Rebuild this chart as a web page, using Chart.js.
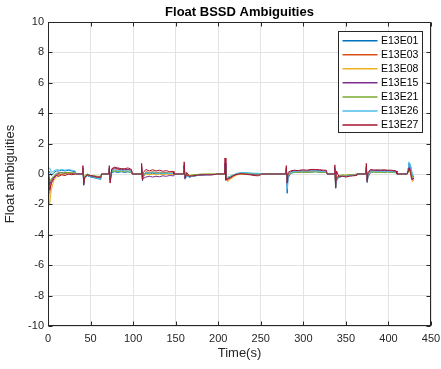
<!DOCTYPE html>
<html><head><meta charset="utf-8">
<script src="https://cdn.jsdelivr.net/npm/chart.js@4/dist/chart.umd.min.js"></script>
<style>html,body{margin:0;padding:0;background:#fff}</style>
</head><body>
<canvas id="c" width="441" height="369"></canvas>
<script>
// ---- data ----
const timeS = [
  0,1,2,4,7,10,13,16,20,24,28,32,33,
  40.5,41,42,43,46,50,54,58,62,63,
  71.5,72,73,75,78,82,86,90,94,98,99,
  109.5,110,111,112,115,119,123,127,131,135,139,143,147,148,
  159.5,160,161,163,166,170,175,180,186,192,197,198,
  207.5,208,209,211,214,218,222,227,232,237,242,247,250,251,
  279.5,280,281,282,285,289,294,299,304,309,314,319,324,327,328,
  336.5,337,338,339,342,346,350,354,358,362,363,
  373.5,374,375,376,379,383,387,391,395,399,403,409,410,
  421.5,422,423,424,426,427,428,430
];
const E13E01 = [
  0.1,0.2,0.1,-0.1,0.1,0.2,0.2,0.25,0.2,0.25,0.2,0.15,0,
  0,0.4,-0.75,-0.3,-0.1,-0.2,-0.25,-0.3,-0.35,0,
  0,0.3,-0.5,0.1,0.15,0.1,0.15,0.1,0.15,0.1,0,
  0,0.3,-0.45,-0.2,0.05,0,0.05,0,0.05,0,0.05,0,0.05,0,
  0,0.5,-0.3,-0.1,-0.2,-0.15,-0.1,-0.05,-0.05,-0.05,-0.02,0,
  0,0.6,-0.3,-0.3,-0.2,-0.1,0,0.05,0.05,0.02,0,0,0,0,
  0,0.3,-1.27,-0.3,0.05,0.1,0.1,0.12,0.1,0.12,0.15,0.12,0.1,0.1,0,
  0,0.3,-0.9,-0.4,-0.15,-0.1,-0.15,-0.1,-0.1,-0.05,0,
  0,0.4,-0.57,-0.2,0.1,0.15,0.12,0.15,0.12,0.15,0.1,0.1,0,
  0,0,0.3,0.7,0.5,0.2,-0.1,-0.2
];
const E13E03 = [
  -0.2,-0.9,-1.3,-0.5,-0.2,-0.1,0,-0.05,0.05,0,0.05,0.05,0,
  0,0.3,-0.4,-0.2,-0.05,-0.15,-0.2,-0.2,-0.25,0,
  0,0.3,-0.3,0.3,0.35,0.3,0.3,0.25,0.3,0.25,0,
  0,0.4,-0.2,-0.1,0.15,0.1,0.15,0.1,0.12,0.08,0.1,0.06,0.08,0,
  0,0.4,-0.2,-0.05,-0.15,-0.1,-0.05,-0.05,-0.03,-0.03,-0.02,0,
  0,0.5,-0.3,-0.45,-0.3,-0.15,-0.05,0,0.02,0,-0.02,-0.05,-0.02,0,
  0,0.3,-0.5,0,0.1,0.15,0.15,0.18,0.15,0.2,0.2,0.2,0.15,0.15,0,
  0,0.2,-0.6,-0.3,-0.1,-0.1,-0.1,-0.05,-0.05,-0.05,0,
  0,0.3,-0.3,0,0.2,0.2,0.2,0.18,0.2,0.2,0.18,0.15,0,
  0,0,0.2,0.4,0.2,-0.1,-0.3,-0.3
];
const E13E08 = [
  -0.3,-1.5,-2.0,-1.0,-0.4,-0.2,-0.1,-0.05,0,0.05,0,0,0,
  0,0.2,-0.3,-0.2,0,-0.1,-0.15,-0.2,-0.2,0,
  0,0.2,-0.2,0.2,0.25,0.2,0.2,0.2,0.2,0.15,0,
  0,0.2,-0.3,-0.15,0,-0.05,0,-0.05,0,-0.05,0,-0.03,0,0,
  0,0.3,-0.2,0,-0.1,-0.1,-0.05,-0.03,-0.02,0,0,0,
  0,0.4,-0.3,-0.5,-0.35,-0.2,-0.05,0,0,0,-0.02,-0.03,0,0,
  0,0.2,-0.6,-0.1,0.1,0.12,0.12,0.15,0.12,0.15,0.18,0.15,0.12,0.12,0,
  0,0.2,-0.95,-0.3,-0.15,-0.1,-0.12,-0.08,-0.05,-0.05,0,
  0,0.2,-0.4,-0.1,0.15,0.15,0.15,0.15,0.15,0.15,0.12,0.1,0,
  0,0,0.1,0.3,0.1,-0.2,-0.5,-0.4
];
const E13E15 = [
  -0.1,-0.5,-0.7,-0.4,-0.2,0,0.05,0.1,0.05,0.1,0.05,0.05,0,
  0,0.3,-0.5,-0.2,-0.1,-0.15,-0.2,-0.25,-0.25,0,
  0,0.4,-0.4,0.3,0.4,0.35,0.3,0.3,0.3,0.25,0,
  0,0.5,-0.35,-0.3,-0.2,-0.15,-0.2,-0.15,-0.18,-0.12,-0.15,-0.1,-0.12,0,
  0,0.6,-0.3,-0.1,-0.2,-0.15,-0.1,-0.08,-0.05,-0.05,-0.02,0,
  0,0.7,-0.4,-0.3,-0.25,-0.1,0,0.03,0.03,0,-0.05,-0.05,-0.02,0,
  0,0.4,-0.7,-0.2,0.15,0.2,0.2,0.22,0.2,0.25,0.25,0.25,0.2,0.2,0,
  0,0.4,-0.7,-0.2,-0.2,-0.15,-0.15,-0.1,-0.1,-0.05,0,
  0,0.5,-0.45,0,0.25,0.25,0.22,0.25,0.22,0.22,0.2,0.18,0,
  0,0,0.2,0.5,0.3,-0.1,-0.35,-0.3
];
const E13E21 = [
  0,-0.3,-0.5,-0.3,-0.1,0.05,0.1,0.05,0.1,0.1,0.1,0.05,0,
  0,0.2,-0.3,-0.1,0,-0.1,-0.1,-0.15,-0.15,0,
  0,0.2,-0.2,0.15,0.2,0.15,0.2,0.15,0.15,0.1,0,
  0,0.3,-0.2,-0.1,0.1,0.05,0.1,0.05,0.08,0.05,0.06,0.04,0.05,0,
  0,0.3,-0.1,0,-0.1,-0.05,-0.03,0,0,0,0,0,
  0,0.4,-0.2,-0.25,-0.15,-0.05,0.02,0.05,0.05,0.03,0.02,0,0,0,
  0,0.2,-0.4,0,0.08,0.1,0.1,0.12,0.1,0.12,0.15,0.12,0.1,0.1,0,
  0,0.2,-0.5,-0.2,-0.1,-0.05,-0.08,-0.05,-0.05,0,0,
  0,0.2,-0.2,0,0.1,0.12,0.1,0.12,0.1,0.12,0.1,0.08,0,
  0,0,0.1,0.3,0.2,0,-0.2,-0.2
];
const E13E26 = [
  0.3,0.35,0.4,0.1,0.2,0.3,0.25,0.3,0.25,0.3,0.25,0.2,0,
  0,0.35,-0.6,-0.3,-0.05,-0.2,-0.2,-0.3,-0.3,0,
  0,0.3,-0.3,0.2,0.3,0.2,0.25,0.2,0.2,0.15,0,
  0,0.35,-0.3,-0.1,0.1,0.05,0.1,0.05,0.08,0.04,0.06,0.03,0.05,0,
  0,0.4,-0.35,-0.15,-0.2,-0.15,-0.1,-0.05,-0.05,-0.03,-0.02,0,
  0,0.6,-0.3,-0.2,-0.15,-0.05,0.05,0.1,0.1,0.08,0.05,0.05,0.02,0,
  0,0.3,-1.0,-0.2,0.1,0.15,0.15,0.2,0.18,0.2,0.2,0.18,0.15,0.15,0,
  0,0.4,-0.95,-0.5,-0.2,-0.15,-0.15,-0.12,-0.1,-0.05,0,
  0,0.4,-0.5,-0.1,0.15,0.2,0.15,0.18,0.15,0.18,0.15,0.12,0,
  0,0,0.4,0.8,0.6,0.3,0,-0.1
];
const E13E27 = [
  -0.2,-1.0,-1.05,-0.6,-0.3,-0.1,-0.15,-0.05,-0.1,0,-0.05,0,0,
  0,0.55,-0.7,-0.25,-0.05,-0.1,-0.15,-0.2,-0.2,0,
  0,0.55,-0.6,0.35,0.45,0.4,0.35,0.35,0.4,0.3,0,
  0,0.7,-0.4,0.1,0.3,0.2,0.28,0.2,0.25,0.18,0.22,0.15,0.18,0,
  0,0.8,-0.3,0.1,-0.15,-0.12,-0.08,-0.05,-0.05,-0.05,-0.03,0,
  0,1.05,-0.4,-0.35,-0.25,-0.1,-0.02,0.02,-0.02,-0.05,-0.1,-0.12,-0.05,0,
  0,0.55,-0.6,0.1,0.2,0.25,0.22,0.28,0.25,0.3,0.3,0.28,0.25,0.25,0,
  0,0.6,-0.9,0.2,-0.2,-0.15,-0.2,-0.15,-0.12,-0.1,0,
  0,0.7,-0.5,0.1,0.3,0.25,0.28,0.25,0.28,0.25,0.25,0.2,0,
  0,0,0.2,0.4,0.1,-0.3,-0.4,-0.25
];
const seriesNames = ['E13E01','E13E03','E13E08','E13E15','E13E21','E13E26','E13E27'];
const seriesValues = [E13E01,E13E03,E13E08,E13E15,E13E21,E13E26,E13E27];
const seriesColors = ['#0072BD','#D95319','#EDB120','#7E2F8E','#77AC30','#4DBEEE','#A2142F'];
const xTickValues = [0,50,100,150,200,250,300,350,400,450];
const yTickValues = [-10,-8,-6,-4,-2,0,2,4,6,8,10];
const chartTitle = 'Float BSSD Ambiguities';

const FONT = "'Liberation Sans', Arial, Helvetica, sans-serif";
const AX = '#262626';

const datasets = seriesNames.map((n, i) => ({
  label: n,
  data: timeS.map((t, k) => ({x: t, y: seriesValues[i][k]})),
  borderColor: seriesColors[i],
  backgroundColor: seriesColors[i],
  borderWidth: 1,
  pointRadius: 0,
  tension: 0,
  order: seriesNames.length - i
}));

const matlabFrame = {
  id: 'matlabFrame',
  afterDraw(chart) {
    const {ctx, chartArea: a, scales: {x, y}} = chart;
    ctx.save();
    // title centred over the axes
    ctx.fillStyle = '#000';
    ctx.font = 'bold 13px ' + FONT;
    ctx.textAlign = 'center';
    ctx.textBaseline = 'alphabetic';
    ctx.fillText(chartTitle, (a.left + a.right) / 2, 16);

    ctx.strokeStyle = AX;
    ctx.lineWidth = 1;
    const L = Math.round(a.left) + 0.5, R = Math.round(a.right) - 0.5;
    const T = Math.round(a.top) + 0.5, B = Math.round(a.bottom) - 0.5;
    ctx.strokeRect(L, T, R - L, B - T);
    ctx.beginPath();
    xTickValues.forEach(v => {
      const px = Math.round(x.getPixelForValue(v)) + 0.5;
      ctx.moveTo(px, B); ctx.lineTo(px, B - 4);
      ctx.moveTo(px, T); ctx.lineTo(px, T + 4);
    });
    yTickValues.forEach(v => {
      const py = Math.round(y.getPixelForValue(v)) + 0.5;
      ctx.moveTo(L, py); ctx.lineTo(L + 4, py);
      ctx.moveTo(R, py); ctx.lineTo(R - 4, py);
    });
    ctx.stroke();
    // legend box
    const bx = Math.round(a.right) - 92.5, by = Math.round(a.top) + 9.5;
    const bw = 84, bh = 101;
    ctx.fillStyle = '#fff';
    ctx.fillRect(bx, by, bw, bh);
    ctx.strokeStyle = AX;
    ctx.strokeRect(bx, by, bw, bh);
    ctx.font = '10.5px ' + FONT;
    ctx.textBaseline = 'middle';
    ctx.textAlign = 'left';
    chart.data.datasets.forEach((d, i) => {
      const ry = by + 9.2 + i * 14.05;
      ctx.strokeStyle = d.borderColor;
      ctx.lineWidth = 1.5;
      ctx.beginPath();
      ctx.moveTo(bx + 4, ry); ctx.lineTo(bx + 39, ry);
      ctx.stroke();
      ctx.fillStyle = '#000';
      ctx.fillText(d.label, bx + 42.5, ry + 0.5);
    });
    ctx.restore();
  }
};

new Chart(document.getElementById('c'), {
  type: 'line',
  data: {datasets},
  options: {
    responsive: false,
    animation: false,
    devicePixelRatio: 1,
    layout: {padding: {top: 22, right: 10, left: 0, bottom: 0}},
    plugins: {
      legend: {display: false},
      tooltip: {enabled: false},
      title: {display: false}
    },
    scales: {
      x: {
        type: 'linear', min: 0, max: 450,
        afterBuildTicks: s => { s.ticks = xTickValues.map(v => ({value: v})); },
        ticks: {color: AX, font: {family: FONT, size: 11}, padding: 6, maxRotation: 0, autoSkip: false},
        grid: {color: '#e3e3e3', drawTicks: false},
        border: {display: false},
        title: {display: true, text: 'Time(s)', color: AX, font: {family: FONT, size: 13}, padding: {top: 0, bottom: 7.7}},
        afterFit: s => { s.height = 43; s.paddingLeft = 0; s.paddingRight = 0; }
      },
      y: {
        type: 'linear', min: -10, max: 10,
        afterBuildTicks: s => { s.ticks = yTickValues.map(v => ({value: v})); },
        ticks: {color: AX, font: {family: FONT, size: 11}, padding: 4},
        grid: {color: '#e3e3e3', drawTicks: false},
        border: {display: false},
        title: {display: true, text: 'Float ambiguities', color: AX, font: {family: FONT, size: 13}, padding: {top: 2.5, bottom: 0}},
        afterFit: s => { s.width = 48; s.paddingTop = 0; s.paddingBottom = 0; }
      }
    }
  },
  plugins: [matlabFrame]
});
</script>
</body></html>
